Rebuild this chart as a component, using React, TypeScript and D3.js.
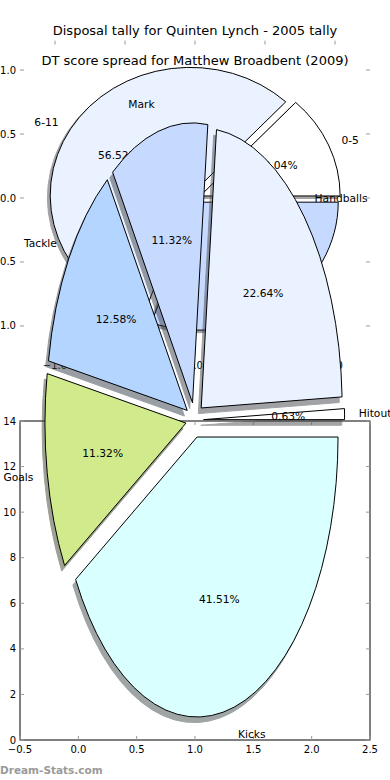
import React from "react";
import * as d3 from "d3";

// disposal pie (front), drawn counter-clockwise from 3 o'clock
const disposalLabels = ["Hitout", "Handballs", "Mark", "Tackle", "Goals", "Kicks"];
const disposalValues = [1, 36, 18, 20, 18, 66];
const disposalColors = ["#ffffff", "#eaf1ff", "#c6d9ff", "#b3d5ff", "#d0ea8c", "#d9ffff"];

// DT score pie (back)
const dtLabels = ["0-5", "6-11", "12-17"];
const dtValues = [3, 13, 7];
const dtColors = ["#ffffff", "#eaf1ff", "#c6d9ff"];

const dtTicks = [-1, -0.5, 0, 0.5, 1];
const dispXTicks = [-0.5, 0, 0.5, 1, 1.5, 2, 2.5];
const dispYTicks = [0, 2, 4, 6, 8, 10, 12, 14];

const W = 390,
  H = 780;

const fmtTick = (v: number) => (v < 0 ? "\u2212" : "") + Math.abs(v).toFixed(1);

interface PieProps {
  labels: string[];
  values: number[];
  colors: string[];
  cx: number;
  cy: number;
  rx: number;
  ry: number;
  explode: number;
}

// matplotlib-style shadow colour: 30% of the face colour
const darker = (c: string) => {
  const rgb = d3.rgb(c);
  return d3.rgb(rgb.r * 0.3, rgb.g * 0.3, rgb.b * 0.3).formatHex();
};

const Pie = ({ labels, values, colors, cx, cy, rx, ry, explode }: PieProps) => {
  const total = d3.sum(values);
  const arcs = d3
    .pie<number>()
    .sort(null)
    .startAngle(Math.PI / 2)
    .endAngle(Math.PI / 2 - 2 * Math.PI)(values);
  const arc: any = d3.arc().innerRadius(0).outerRadius(1);
  if (arc.digits) arc.digits(6);

  const items = arcs.map((a, i) => {
    const mid = (a.startAngle + a.endAngle) / 2;
    const ux = Math.sin(mid),
      uy = -Math.cos(mid);
    const ox = cx + explode * rx * ux,
      oy = cy + explode * ry * uy;
    return { a, i, ux, uy, ox, oy };
  });

  return (
    <g>
      {/* shadows */}
      {items.map(({ a, i, ox, oy }) => (
        <path
          key={"s" + i}
          d={arc(a)}
          transform={`translate(${ox - 0.02 * rx},${oy + 0.02 * ry}) scale(${rx},${ry})`}
          fill={darker(colors[i])}
          stroke={darker(colors[i])}
          strokeWidth={1}
          vectorEffect="non-scaling-stroke"
          opacity={0.5}
        />
      ))}
      {/* wedges */}
      {items.map(({ a, i, ox, oy }) => (
        <path
          key={"w" + i}
          d={arc(a)}
          transform={`translate(${ox},${oy}) scale(${rx},${ry})`}
          fill={colors[i]}
          stroke="#000"
          strokeWidth={1}
          vectorEffect="non-scaling-stroke"
        />
      ))}
      {/* labels */}
      {items.map(({ i, ux, uy, ox, oy }) => (
        <text
          key={"l" + i}
          x={ox + 1.1 * rx * ux}
          y={oy + 1.1 * ry * uy}
          dy="0.35em"
          fontSize={10.7}
          textAnchor={ux > 0 ? "start" : "end"}
        >
          {labels[i]}
        </text>
      ))}
      {items.map(({ i, ux, uy, ox, oy }) => (
        <text
          key={"p" + i}
          x={ox + 0.6 * rx * ux}
          y={oy + 0.6 * ry * uy}
          dy="0.35em"
          fontSize={10.7}
          textAnchor="middle"
        >
          {((values[i] / total) * 100).toFixed(2) + "%"}
        </text>
      ))}
    </g>
  );
};

const App = () => {
  // DT axes (frameless)
  const dtX = d3.scaleLinear().domain([-1.25, 1.25]).range([20, 370]);
  const dtY = d3.scaleLinear().domain([-1.23, 1.23]).range([355.4, 40.6]);
  // disposal axes (boxed)
  const dX = d3.scaleLinear().domain([-0.5, 2.5]).range([20, 370]);
  const dY = d3.scaleLinear().domain([0, 14]).range([740, 421]);

  const tickColor = "#999";
  const tl = 4;

  return (
    <svg
      width={W}
      height={H}
      style={{ position: "absolute", left: 0, top: 0, background: "#fff" }}
      fontFamily="DejaVu Sans, sans-serif"
    >
      <rect width={W} height={H} fill="#fff" />

      {/* titles */}
      <text x={195} y={30} dy="0.35em" fontSize={13} textAnchor="middle">
        Disposal tally for Quinten Lynch - 2005 tally
      </text>
      <text x={195} y={60} dy="0.35em" fontSize={13} textAnchor="middle">
        DT score spread for Matthew Broadbent (2009)
      </text>

      {/* DT axes ticks */}
      <g stroke={tickColor} strokeWidth={1}>
        {dtTicks.map(t => (
          <g key={"dtx" + t}>
            <line x1={dtX(t)} x2={dtX(t)} y1={dtY.range()[1]} y2={dtY.range()[1] + tl} />
            <line x1={dtX(t)} x2={dtX(t)} y1={dtY.range()[0]} y2={dtY.range()[0] - tl} />
            <line x1={20} x2={20 + tl} y1={dtY(t)} y2={dtY(t)} />
            <line x1={370} x2={370 - tl} y1={dtY(t)} y2={dtY(t)} />
          </g>
        ))}
      </g>
      <g fontSize={10}>
        {dtTicks.map(t => (
          <text key={"dyl" + t} x={16} y={dtY(t)} dy="0.35em" textAnchor="end">
            {fmtTick(t)}
          </text>
        ))}
        {dtTicks.map(t => (
          <text key={"dxl" + t} x={dtX(t)} y={dtY.range()[0] + 10} dy="0.35em" textAnchor="middle">
            {fmtTick(t)}
          </text>
        ))}
      </g>

      <Pie
        labels={dtLabels}
        values={dtValues}
        colors={dtColors}
        cx={dtX(0)}
        cy={dtY(0)}
        rx={dtX(1) - dtX(0)}
        ry={dtY(0) - dtY(1)}
        explode={0.04}
      />

      {/* disposal axes box */}
      <rect x={20} y={421} width={350} height={319} fill="none" stroke="#000" strokeWidth={1} />
      <g stroke={tickColor} strokeWidth={1}>
        {dispXTicks.map(t => (
          <g key={"dx" + t}>
            <line x1={dX(t)} x2={dX(t)} y1={740} y2={740 - tl} />
            <line x1={dX(t)} x2={dX(t)} y1={421} y2={421 + tl} />
          </g>
        ))}
        {dispYTicks.map(t => (
          <g key={"dy" + t}>
            <line x1={20} x2={20 + tl} y1={dY(t)} y2={dY(t)} />
            <line x1={370} x2={370 - tl} y1={dY(t)} y2={dY(t)} />
          </g>
        ))}
      </g>
      <g fontSize={10}>
        {dispYTicks.map(t => (
          <text key={"dyt" + t} x={16} y={dY(t)} dy="0.35em" textAnchor="end">
            {t}
          </text>
        ))}
        {dispXTicks.map(t => (
          <text key={"dxt" + t} x={dX(t)} y={749} dy="0.35em" textAnchor="middle">
            {fmtTick(t)}
          </text>
        ))}
      </g>

      <Pie
        labels={disposalLabels}
        values={disposalValues}
        colors={disposalColors}
        cx={194.7}
        cy={420}
        rx={141}
        ry={280}
        explode={0.063}
      />

      <text x={0} y={774} fontSize={10.5} fontWeight="bold" fill="#9a9a9a">
        Dream-Stats.com
      </text>
    </svg>
  );
};

export default App;
